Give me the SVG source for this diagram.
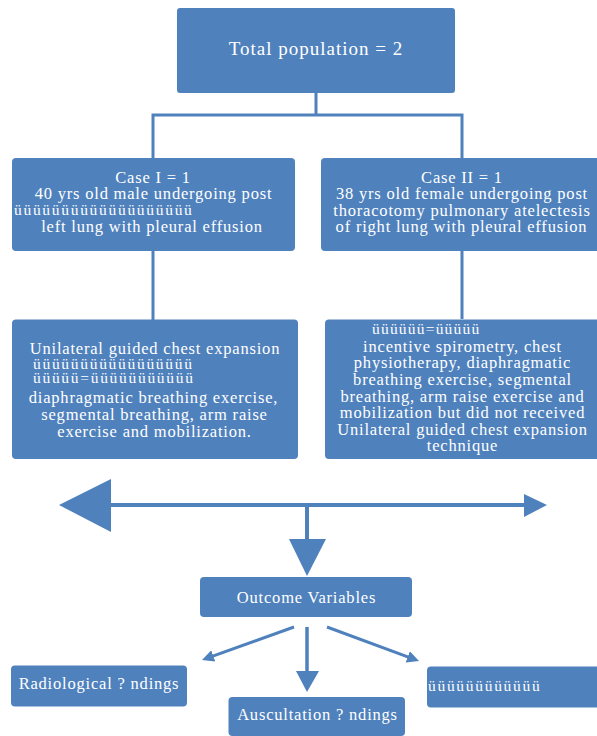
<svg xmlns="http://www.w3.org/2000/svg" width="597" height="736" viewBox="0 0 597 736">
<style>
.box{fill:#4F81BD;stroke:none}
.t{fill:#FFFFFF;font-family:"Liberation Serif","Times New Roman",serif;font-size:16.5px;letter-spacing:0.8px;text-anchor:middle}
.u{fill:#FFFFFF;font-family:"Liberation Serif","Times New Roman",serif;font-size:15.5px;letter-spacing:1.7px;text-anchor:start}
.ttl{fill:#FFFFFF;font-family:"Liberation Serif","Times New Roman",serif;font-size:19px;letter-spacing:1px;text-anchor:middle}
.ln{stroke:#4F81BD;stroke-width:3;fill:none}
.thk{stroke:#4F81BD;stroke-width:4;fill:none}
.hd{fill:#4F81BD;stroke:none}
</style>
<defs>
<marker id="ah" viewBox="0 0 10 10" refX="6" refY="5" markerWidth="4" markerHeight="4" markerUnits="strokeWidth" orient="auto">
<path d="M0,0 L10,5 L0,10 z" fill="#4F81BD"/>
</marker>
</defs>
<g id="connectors">
<path class="ln" d="M316,93 V115 M153,115 H462 M153,113.5 V158 M462,113.5 V158"/>
<path class="ln" d="M153,251 V320 M462,251 V319"/>
<line class="thk" x1="110" y1="505" x2="525" y2="505"/>
<polygon class="hd" points="59,505 111,479 111,532"/>
<polygon class="hd" points="547,505 524,494 524,517"/>
<line class="thk" x1="307" y1="505" x2="307" y2="540"/>
<polygon class="hd" points="289,539 326,539 307,576"/>
<line class="ln" x1="294" y1="627" x2="206.5" y2="658.4" marker-end="url(#ah)"/>
<line class="ln" x1="307" y1="627" x2="307" y2="672" style="stroke-width:3.5"/>
<polygon class="hd" points="296,671 319,671 307,692"/>
<line class="ln" x1="327" y1="627" x2="414.5" y2="659.3" marker-end="url(#ah)"/>
</g>
<g id="total">
<rect class="box" x="177" y="8" width="278" height="85" rx="3"/>
<text class="ttl" x="316" y="55">Total population = 2</text>
</g>
<g id="case1">
<rect class="box" x="12" y="158" width="283" height="93" rx="4"/>
<text class="t" x="153" y="183">Case I = 1</text>
<text class="t" x="153.5" y="199">40 yrs old male undergoing post</text>
<text class="u" x="14" y="215">üüüüüüüüüüüüüüüüüüü</text>
<text class="t" x="152" y="232">left lung with pleural effusion</text>
</g>
<g id="case2">
<rect class="box" x="321" y="158" width="280" height="93" rx="4"/>
<text class="t" x="462" y="183">Case II = 1</text>
<text class="t" x="462" y="199">38 yrs old female undergoing post</text>
<text class="t" x="462" y="215.5">thoracotomy pulmonary atelectesis</text>
<text class="t" x="461.5" y="232">of right lung with pleural effusion</text>
</g>
<g id="treatment1">
<rect class="box" x="12" y="319.5" width="286" height="139.5" rx="4"/>
<text class="t" x="155" y="354">Unilateral guided chest expansion</text>
<text class="u" x="33" y="369">üüüüüüüüüüüüüüüüü</text>
<text class="u" x="33" y="383">üüüüü=üüüüüüüüüüü</text>
<text class="t" x="153.5" y="403">diaphragmatic breathing exercise,</text>
<text class="t" x="154.5" y="420">segmental breathing, arm raise</text>
<text class="t" x="154.5" y="437">exercise and mobilization.</text>
</g>
<g id="treatment2">
<rect class="box" x="325" y="319.5" width="276" height="139.5" rx="4"/>
<text class="u" x="372" y="334" style="letter-spacing:1.2px">üüüüüü=üüüüü</text>
<text class="t" x="462.5" y="351.5">incentive spirometry, chest</text>
<text class="t" x="462.5" y="368">physiotherapy, diaphragmatic</text>
<text class="t" x="462.5" y="385">breathing exercise, segmental</text>
<text class="t" x="462.5" y="401.5">breathing, arm raise exercise and</text>
<text class="t" x="462.5" y="418">mobilization but did not received</text>
<text class="t" x="462.5" y="435">Unilateral guided chest expansion</text>
<text class="t" x="462.5" y="450.5">technique</text>
</g>
<g id="outcome">
<rect class="box" x="200" y="577" width="212" height="40" rx="4"/>
<text class="t" x="306.5" y="603">Outcome Variables</text>
</g>
<g id="radiological">
<rect class="box" x="11" y="665.5" width="176" height="41" rx="4"/>
<text class="t" x="99" y="689">Radiological ? ndings</text>
</g>
<g id="auscultation">
<rect class="box" x="228.5" y="697" width="176.5" height="39" rx="4"/>
<text class="t" x="317.5" y="720">Auscultation ? ndings</text>
</g>
<g id="other">
<rect class="box" x="427" y="666.5" width="174" height="41" rx="4"/>
<text class="u" x="428" y="690.5">üüüüüüüüüüüü</text>
</g>
</svg>
